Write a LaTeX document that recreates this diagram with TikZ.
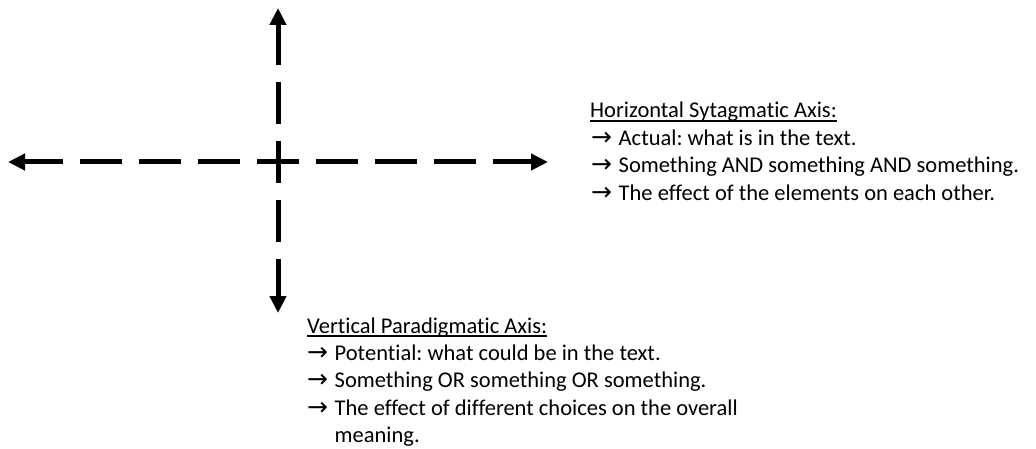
\documentclass[tikz,border=0pt]{standalone}
\usepackage{fontspec}
\setmainfont[Ligatures={NoCommon}]{Carlito}
\newfontfamily\arrfont{DejaVu Sans}
\usetikzlibrary{arrows.meta}
\tikzset{
  axisline/.style={line width=5pt, dash pattern=on 42pt off 17pt, dash phase=21pt,
    -{Triangle[length=17pt,width=16pt]}},
  txt/.style={anchor=base west, inner sep=0pt, font=\fontsize{22.5pt}{27pt}\selectfont\frenchspacing},
  uline/.style={line width=1.4pt},
}
\newcommand{\ar}{\makebox[27.5pt][l]{\arrfont\fontsize{25pt}{27pt}\selectfont\char"2192}}
\begin{document}
\begin{tikzpicture}[x=1pt,y=-1pt]
\useasboundingbox (0,0) rectangle (1036,449);
\coordinate (c) at (278,162);
\coordinate (L) at (8,162);
\coordinate (R) at (548,162);
\coordinate (T) at (278,8);
\coordinate (B) at (278,313);
\draw[axisline] (c) -- (L);
\draw[axisline] (c) -- (R);
\draw[axisline] (c) -- (T);
\draw[axisline] (c) -- (B);
% horizontal block
\node[txt] (h0) at (590,118) {Horizontal Sytagmatic Axis:};
\draw[uline] ([yshift=-3pt]h0.base west) -- ([yshift=-3pt]h0.base east);
\node[txt] (h1) at (591,145.5) {\ar Actual: what is in the text.};
\node[txt] (h2) at (591,173) {\ar Something AND something AND something.};
\node[txt] (h3) at (591,200.5) {\ar The effect of the elements on each other.};
% vertical block
\node[txt] (v0) at (307,333) {Vertical Paradigmatic Axis:};
\draw[uline] ([yshift=-3pt]v0.base west) -- ([yshift=-3pt]v0.base east);
\node[txt] (v1) at (307,360) {\ar Potential: what could be in the text.};
\node[txt] (v2) at (307,387.5) {\ar Something OR something OR something.};
\node[txt] (v3) at (307,415) {\ar The effect of different choices on the overall};
\node[txt] (v4) at (334.5,442.5) {meaning.};
\end{tikzpicture}
\end{document}
